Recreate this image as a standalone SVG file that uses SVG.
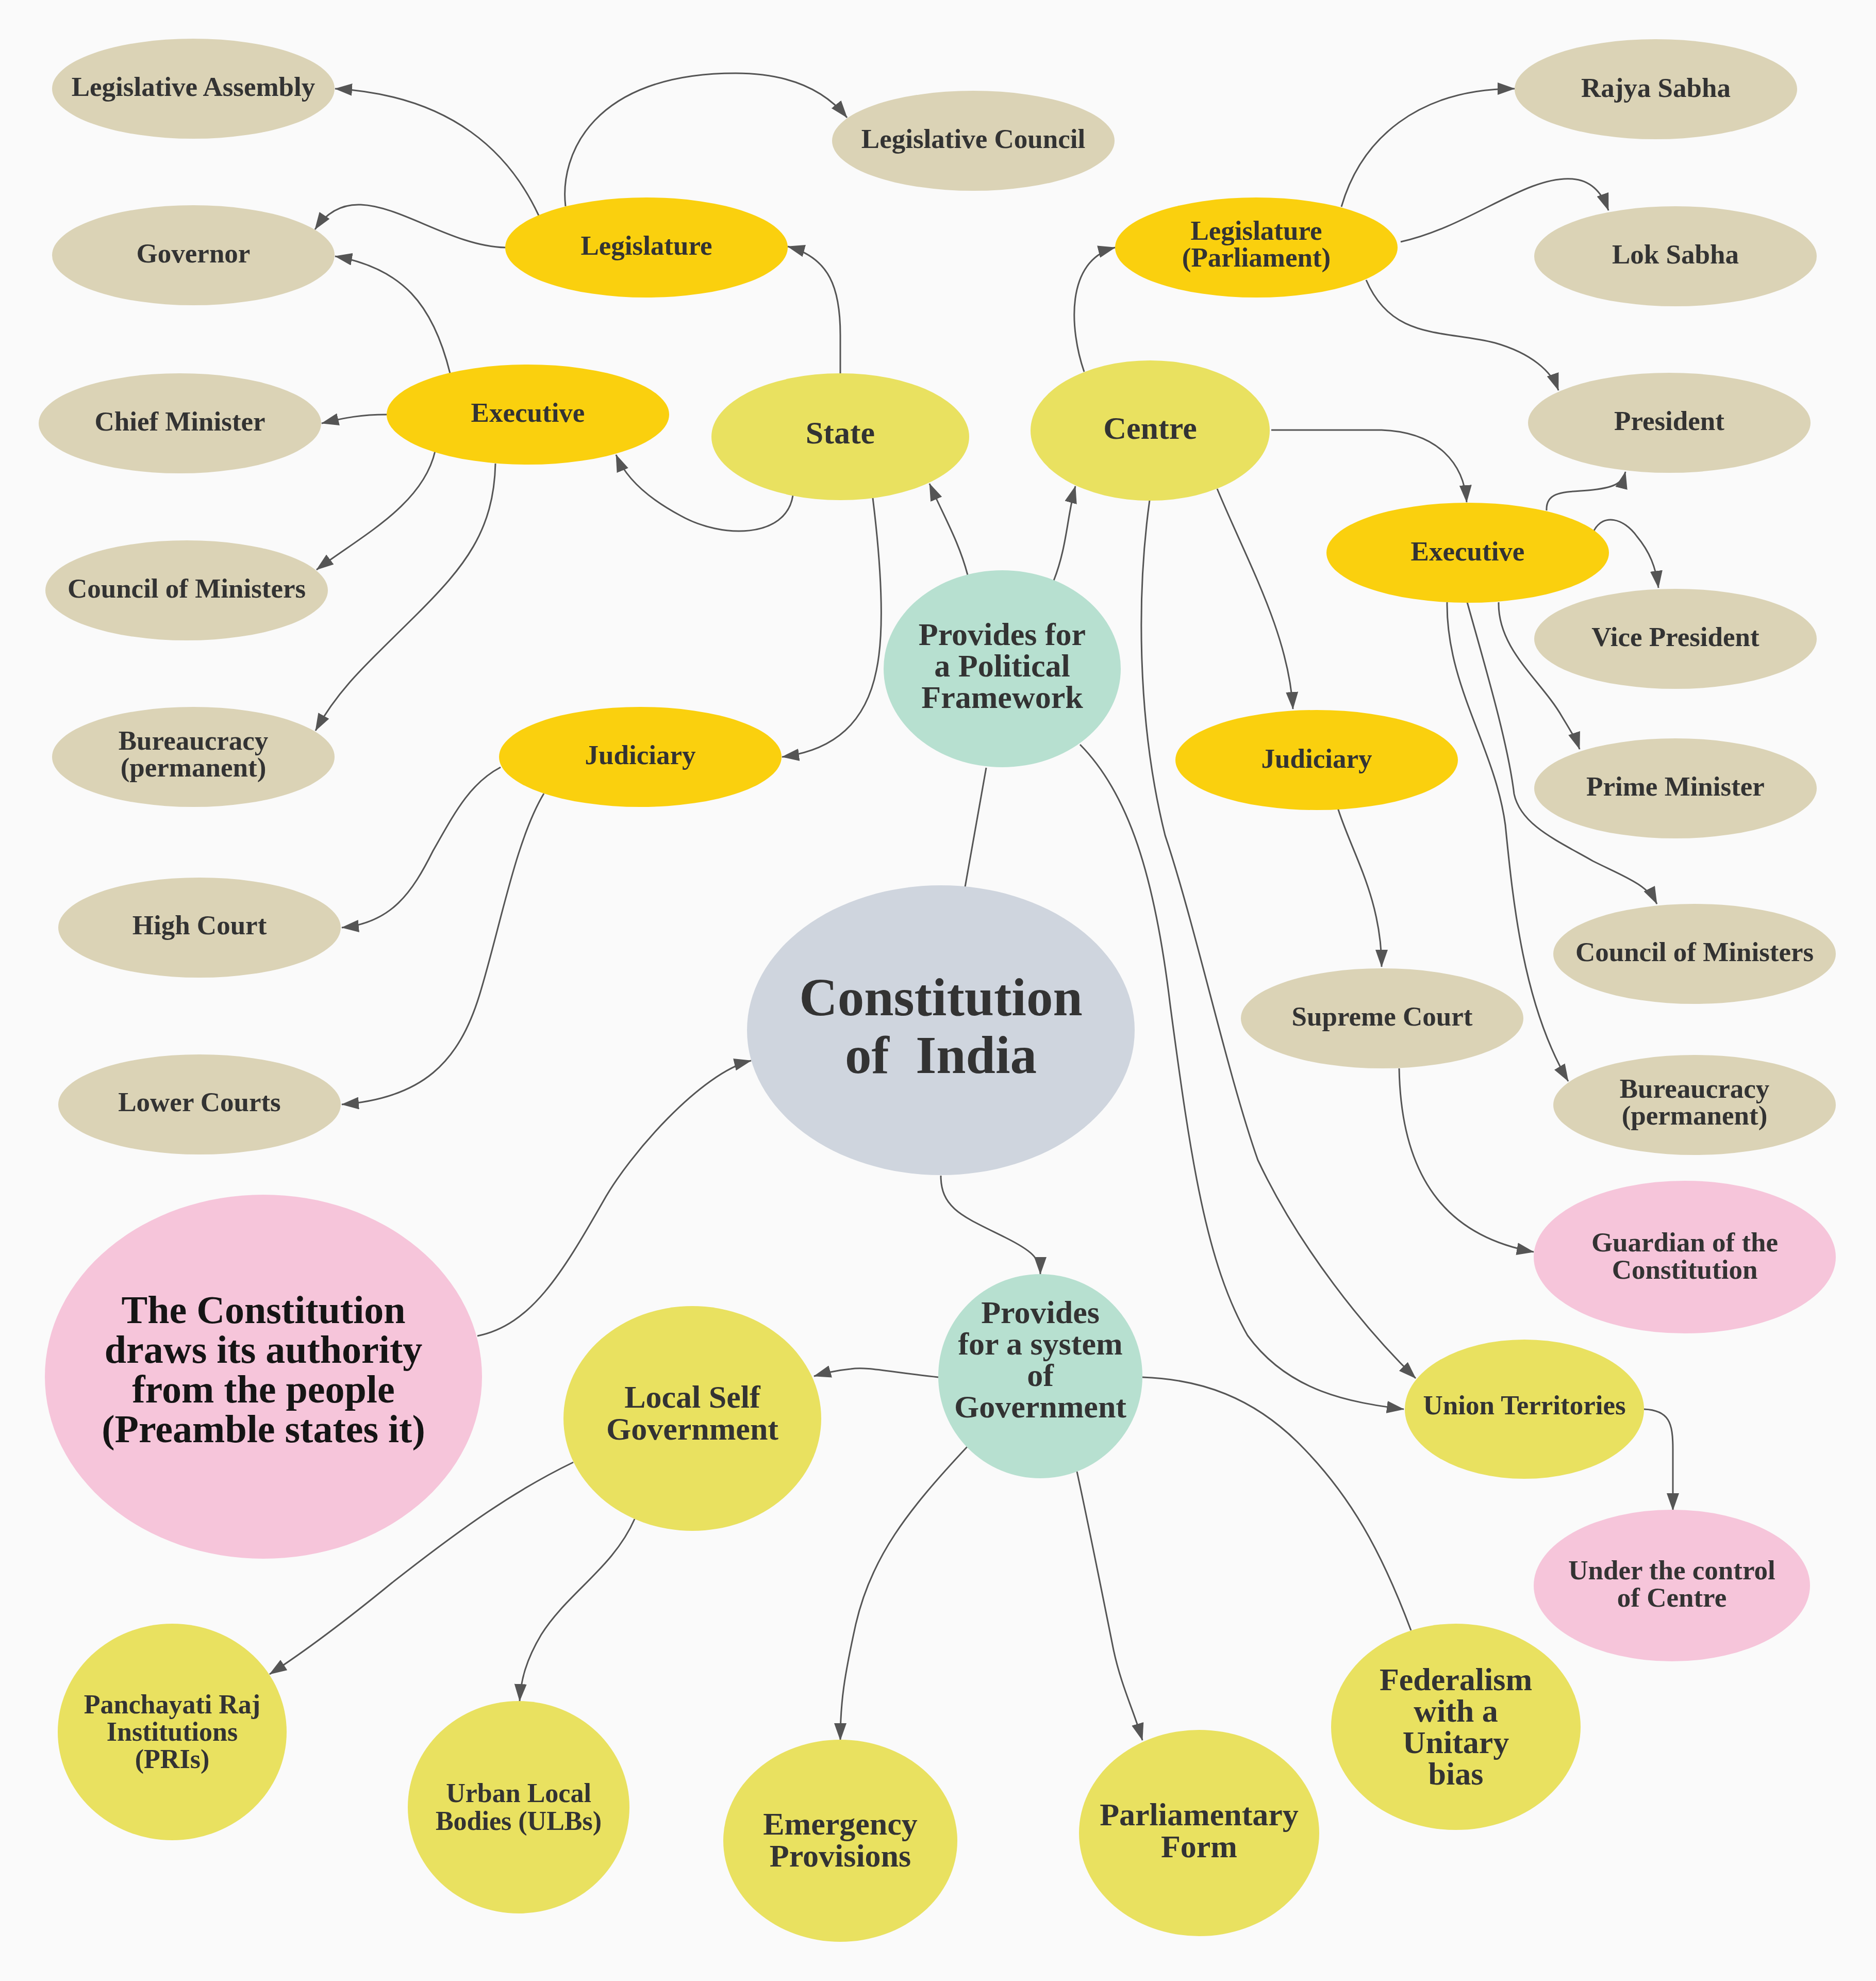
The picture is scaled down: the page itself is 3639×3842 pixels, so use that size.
<svg xmlns="http://www.w3.org/2000/svg" width="3639" height="3842" viewBox="0 0 3639 3842">
<defs>
<style>
.bg{fill:#fafafa}
.tan{fill:#dbd3b6}
.gold{fill:#fad00e}
.yel{fill:#e9e160}
.mint{fill:#b7e0d0}
.gray{fill:#cfd5de}
.pink{fill:#f6c5da}
text{font-family:"Liberation Serif","Times New Roman",serif;font-weight:bold;fill:#333333;text-anchor:middle}
.s53{font-size:53px}
.s52{font-size:52px}
.s62{font-size:62px}
.s78{font-size:76px;fill:#151515}
.s106{font-size:103px}
.e{fill:none;stroke:#555555;stroke-width:3}
.a{marker-end:url(#arr)}
</style>
<marker id="arr" markerUnits="userSpaceOnUse" markerWidth="34" markerHeight="24" viewBox="0 0 34 24" refX="33" refY="12" orient="auto">
<path d="M0,0 L34,12 L0,24 z" fill="#555555"/>
</marker>
</defs>
<rect class="bg" x="0" y="0" width="3639" height="3842"/>
<g id="connectors">
<path class="e a" d="M1630,724 L1630,650 C1630,560 1610,500 1528,478"/>
<path class="e a" d="M1045,418 C990,300 880,185 650,172"/>
<path class="e a" d="M1097,400 C1085,300 1150,142 1427,142 C1530,142 1600,175 1643,228"/>
<path class="e a" d="M980,480 C880,478 780,400 700,397 C655,395 628,420 611,445"/>
<path class="e a" d="M873,724 C840,590 780,520 650,497"/>
<path class="e a" d="M750,804 C700,804 670,810 624,821"/>
<path class="e a" d="M844,875 C820,980 700,1040 614,1105"/>
<path class="e a" d="M961,899 C958,1030 900,1100 810,1190 C720,1280 660,1330 612,1417"/>
<path class="e a" d="M1538,961 C1525,1045 1400,1045 1320,1000 C1260,968 1215,930 1195,882"/>
<path class="e a" d="M1693,966 C1712,1120 1715,1230 1700,1300 C1680,1400 1620,1455 1517,1468"/>
<path class="e a" d="M1877,1115 C1860,1050 1830,1000 1803,938"/>
<path class="e a" d="M2044,1126 C2070,1060 2070,1000 2086,943"/>
<path class="e" d="M1913,1489 L1872,1720"/>
<path class="e a" d="M2095,1444 C2190,1540 2240,1700 2270,1950 C2310,2250 2340,2450 2420,2590 C2500,2700 2620,2720 2723,2733"/>
<path class="e a" d="M2230,970 C2205,1150 2205,1400 2260,1620 C2320,1800 2380,2080 2440,2250 C2520,2420 2650,2580 2746,2673"/>
<path class="e a" d="M2103,721 C2075,640 2065,505 2163,480"/>
<path class="e a" d="M2602,401 C2640,270 2750,172 2938,172"/>
<path class="e a" d="M2717,469 C2850,440 2960,340 3050,347 C3090,350 3110,380 3120,408"/>
<path class="e a" d="M2650,543 C2700,660 2800,640 2900,665 C2970,685 3010,720 3023,757"/>
<path class="e a" d="M2466,834 L2680,834 C2790,838 2840,900 2845,974"/>
<path class="e a" d="M2361,948 C2420,1090 2500,1230 2508,1375"/>
<path class="e a" d="M3000,990 C2998,950 3040,955 3090,950 C3135,945 3148,935 3153,915"/>
<path class="e a" d="M3092,1029 C3110,995 3150,1005 3175,1040 C3200,1070 3212,1100 3217,1140"/>
<path class="e a" d="M2907,1168 C2905,1260 2990,1320 3030,1390 C3045,1415 3058,1435 3064,1453"/>
<path class="e a" d="M2846,1168 C2880,1290 2925,1440 2937,1540 C2950,1600 3020,1630 3090,1670 C3150,1700 3195,1715 3214,1753"/>
<path class="e a" d="M2807,1168 C2805,1330 2900,1450 2920,1600 C2935,1750 2955,1950 3042,2097"/>
<path class="e a" d="M2594,1564 C2620,1650 2680,1740 2680,1875"/>
<path class="e a" d="M2714,2072 C2718,2300 2820,2400 2975,2428"/>
<path class="e a" d="M3189,2733 C3238,2735 3245,2760 3245,2810 L3245,2929"/>
<path class="e a" d="M1825,2280 C1825,2345 1870,2360 1950,2400 C2000,2425 2018,2440 2018,2471"/>
<path class="e a" d="M926,2591 C1030,2570 1090,2470 1170,2330 C1220,2240 1360,2080 1457,2057"/>
<path class="e a" d="M1820,2671 C1720,2660 1680,2650 1650,2655 C1620,2658 1600,2663 1579,2669"/>
<path class="e a" d="M1876,2806 C1760,2930 1690,3020 1660,3150 C1638,3250 1630,3300 1630,3375"/>
<path class="e a" d="M2089,2854 C2110,2950 2140,3100 2160,3200 C2175,3270 2200,3320 2216,3375"/>
<path class="e" d="M2216,2671 C2330,2675 2430,2710 2520,2800 C2620,2900 2680,3010 2737,3162"/>
<path class="e a" d="M1112,2836 C1000,2890 900,2960 760,3070 C650,3160 580,3210 523,3247"/>
<path class="e a" d="M1231,2946 C1190,3040 1100,3090 1050,3170 C1020,3220 1010,3260 1008,3299"/>
<path class="e a" d="M971,1488 C910,1520 880,1580 840,1650 C800,1730 760,1790 663,1799"/>
<path class="e a" d="M1055,1539 C1000,1630 970,1800 930,1930 C890,2060 820,2130 663,2142"/>
</g>
<g id="n_leg_assembly"><ellipse class="tan" cx="375" cy="172" rx="274" ry="97"/><text class="s53" x="375" y="186">Legislative Assembly</text></g>
<g id="n_leg_council"><ellipse class="tan" cx="1888" cy="273" rx="274" ry="97"/><text class="s53" x="1888" y="287">Legislative Council</text></g>
<g id="n_governor"><ellipse class="tan" cx="375" cy="495" rx="274" ry="97"/><text class="s53" x="375" y="509">Governor</text></g>
<g id="n_chief_minister"><ellipse class="tan" cx="349" cy="821" rx="274" ry="97"/><text class="s53" x="349" y="835">Chief Minister</text></g>
<g id="n_com_state"><ellipse class="tan" cx="362" cy="1145" rx="274" ry="97"/><text class="s53" x="362" y="1159">Council of Ministers</text></g>
<g id="n_bureau_state"><ellipse class="tan" cx="375" cy="1468" rx="274" ry="97"/><text class="s53"><tspan x="375" y="1454">Bureaucracy</tspan><tspan x="375" y="1506">(permanent)</tspan></text></g>
<g id="n_high_court"><ellipse class="tan" cx="387" cy="1799" rx="274" ry="97"/><text class="s53" x="387" y="1812">High Court</text></g>
<g id="n_lower_courts"><ellipse class="tan" cx="387" cy="2142" rx="274" ry="97"/><text class="s53" x="387" y="2155">Lower Courts</text></g>
<g id="n_rajya_sabha"><ellipse class="tan" cx="3212" cy="173" rx="274" ry="97"/><text class="s53" x="3212" y="188">Rajya Sabha</text></g>
<g id="n_lok_sabha"><ellipse class="tan" cx="3250" cy="497" rx="274" ry="97"/><text class="s53" x="3250" y="511">Lok Sabha</text></g>
<g id="n_president"><ellipse class="tan" cx="3238" cy="820" rx="274" ry="97"/><text class="s53" x="3238" y="834">President</text></g>
<g id="n_vice_president"><ellipse class="tan" cx="3250" cy="1239" rx="274" ry="97"/><text class="s53" x="3250" y="1253">Vice President</text></g>
<g id="n_prime_minister"><ellipse class="tan" cx="3250" cy="1529" rx="274" ry="97"/><text class="s53" x="3250" y="1543">Prime Minister</text></g>
<g id="n_com_centre"><ellipse class="tan" cx="3287" cy="1850" rx="274" ry="97"/><text class="s53" x="3287" y="1864">Council of Ministers</text></g>
<g id="n_supreme_court"><ellipse class="tan" cx="2681" cy="1975" rx="274" ry="97"/><text class="s53" x="2681" y="1989">Supreme Court</text></g>
<g id="n_bureau_centre"><ellipse class="tan" cx="3287" cy="2143" rx="274" ry="97"/><text class="s53"><tspan x="3287" y="2129">Bureaucracy</tspan><tspan x="3287" y="2181">(permanent)</tspan></text></g>
<g id="n_legislature_state"><ellipse class="gold" cx="1254" cy="480" rx="274" ry="97"/><text class="s53" x="1254" y="494">Legislature</text></g>
<g id="n_executive_state"><ellipse class="gold" cx="1024" cy="804" rx="274" ry="97"/><text class="s53" x="1024" y="818">Executive</text></g>
<g id="n_judiciary_state"><ellipse class="gold" cx="1242" cy="1468" rx="274" ry="97"/><text class="s53" x="1242" y="1482">Judiciary</text></g>
<g id="n_legislature_centre"><ellipse class="gold" cx="2437" cy="480" rx="274" ry="97"/><text class="s53"><tspan x="2437" y="465">Legislature</tspan><tspan x="2437" y="517">(Parliament)</tspan></text></g>
<g id="n_executive_centre"><ellipse class="gold" cx="2847" cy="1072" rx="274" ry="97"/><text class="s53" x="2847" y="1087">Executive</text></g>
<g id="n_judiciary_centre"><ellipse class="gold" cx="2554" cy="1474" rx="274" ry="97"/><text class="s53" x="2554" y="1489">Judiciary</text></g>
<g id="n_state"><ellipse class="yel" cx="1630" cy="847" rx="250" ry="123"/><text class="s62" x="1630" y="860">State</text></g>
<g id="n_centre"><ellipse class="yel" cx="2231" cy="835" rx="232" ry="136"/><text class="s62" x="2231" y="851">Centre</text></g>
<g id="n_union_territories"><ellipse class="yel" cx="2957" cy="2733" rx="232" ry="135"/><text class="s53" x="2957" y="2743">Union Territories</text></g>
<g id="n_local_self_government"><ellipse class="yel" cx="1343" cy="2751" rx="250" ry="218"/><text class="s62"><tspan x="1343" y="2730">Local Self</tspan><tspan x="1343" y="2792">Government</tspan></text></g>
<g id="n_panchayati"><ellipse class="yel" cx="334" cy="3359" rx="222" ry="210"/><text class="s52"><tspan x="334" y="3323">Panchayati Raj</tspan><tspan x="334" y="3376">Institutions</tspan><tspan x="334" y="3429">(PRIs)</tspan></text></g>
<g id="n_urban"><ellipse class="yel" cx="1006" cy="3505" rx="215" ry="206"/><text class="s52"><tspan x="1006" y="3495">Urban Local</tspan><tspan x="1006" y="3549">Bodies (ULBs)</tspan></text></g>
<g id="n_emergency"><ellipse class="yel" cx="1630" cy="3570" rx="227" ry="196"/><text class="s62"><tspan x="1630" y="3558">Emergency</tspan><tspan x="1630" y="3620">Provisions</tspan></text></g>
<g id="n_parliamentary"><ellipse class="yel" cx="2326" cy="3555" rx="233" ry="200"/><text class="s62"><tspan x="2326" y="3540">Parliamentary</tspan><tspan x="2326" y="3602">Form</tspan></text></g>
<g id="n_federalism"><ellipse class="yel" cx="2824" cy="3349" rx="242" ry="200"/><text class="s62"><tspan x="2824" y="3278">Federalism</tspan><tspan x="2824" y="3339">with a</tspan><tspan x="2824" y="3400">Unitary</tspan><tspan x="2824" y="3461">bias</tspan></text></g>
<g id="n_political_framework"><ellipse class="mint" cx="1944" cy="1297" rx="230" ry="191"/><text class="s62"><tspan x="1944" y="1251">Provides for</tspan><tspan x="1944" y="1312">a Political</tspan><tspan x="1944" y="1373">Framework</tspan></text></g>
<g id="n_system_of_government"><ellipse class="mint" cx="2018" cy="2669" rx="198" ry="198"/><text class="s62"><tspan x="2018" y="2566">Provides</tspan><tspan x="2018" y="2627">for a system</tspan><tspan x="2018" y="2688">of</tspan><tspan x="2018" y="2749">Government</tspan></text></g>
<g id="n_constitution"><ellipse class="gray" cx="1825" cy="1998" rx="376" ry="281"/><text class="s106" xml:space="preserve"><tspan x="1825" y="1969">Constitution</tspan><tspan x="1825" y="2081">of  India</tspan></text></g>
<g id="n_people"><ellipse class="pink" cx="511" cy="2670" rx="424" ry="353"/><text class="s78"><tspan x="511" y="2566">The Constitution</tspan><tspan x="511" y="2643">draws its authority</tspan><tspan x="511" y="2720">from the people</tspan><tspan x="511" y="2797">(Preamble states it)</tspan></text></g>
<g id="n_guardian"><ellipse class="pink" cx="3268" cy="2438" rx="293" ry="148"/><text class="s53"><tspan x="3268" y="2427">Guardian of the</tspan><tspan x="3268" y="2480">Constitution</tspan></text></g>
<g id="n_under_control"><ellipse class="pink" cx="3243" cy="3075" rx="268" ry="147"/><text class="s53"><tspan x="3243" y="3063">Under the control</tspan><tspan x="3243" y="3116">of Centre</tspan></text></g>
</svg>
